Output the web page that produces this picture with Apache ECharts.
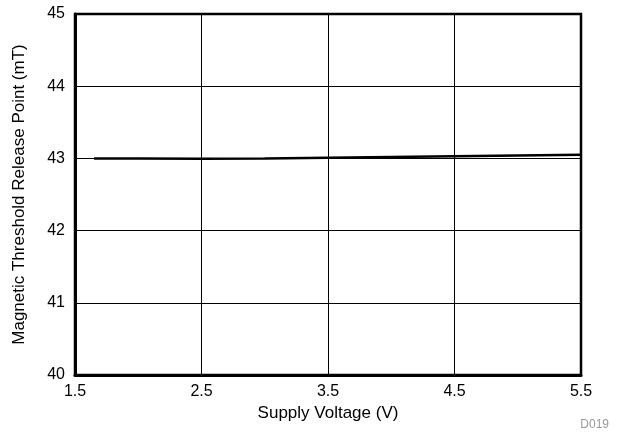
<!DOCTYPE html>
<html><head><meta charset="utf-8">
<script src="https://cdn.jsdelivr.net/npm/echarts@6/dist/echarts.min.js"></script>
<style>html,body{margin:0;padding:0;background:#fff}#c{width:620px;height:433px}</style>
</head><body><div id="c"></div>
<script>
var voltage = [1.65, 2.0, 2.5, 3.0, 3.5, 4.0, 4.5, 5.0, 5.5];
var releasePoint = [43.0, 43.0, 42.995, 43.0, 43.01, 43.02, 43.03, 43.04, 43.05];
var xTicks = [1.5, 2.5, 3.5, 4.5, 5.5];
var yTicks = [40, 41, 42, 43, 44, 45];

var chart = echarts.init(document.getElementById('c'), null, {renderer:'canvas'});
var font = 'Liberation Sans, Arial, sans-serif';
chart.setOption({
  animation:false,
  grid:{left:75, right:39, top:14, bottom:58, show:true, borderColor:'#000', borderWidth:2.5, outerBoundsMode:'none', containLabel:false},
  xAxis:{type:'value', min:xTicks[0], max:xTicks[xTicks.length-1], interval:1,
    name:'Supply Voltage (V)', nameLocation:'middle', nameGap:27,
    nameTextStyle:{fontFamily:font, fontSize:17, color:'#000'},
    axisLine:{show:true, lineStyle:{color:'#000', width:3}},
    axisTick:{show:false},
    axisLabel:{fontFamily:font, fontSize:16, color:'#000', margin:9, formatter:function(v){return v.toFixed(1);}},
    splitLine:{show:true, lineStyle:{color:'#000', width:1}}},
  yAxis:{type:'value', min:yTicks[0], max:yTicks[yTicks.length-1], interval:1,
    name:'Magnetic Threshold Release Point (mT)', nameLocation:'middle', nameGap:47,
    nameTextStyle:{fontFamily:font, fontSize:17, color:'#000'},
    axisLine:{show:true, lineStyle:{color:'#000', width:3}},
    axisTick:{show:false},
    axisLabel:{fontFamily:font, fontSize:16, color:'#000', margin:10},
    splitLine:{show:true, lineStyle:{color:'#000', width:1}}},
  graphic:[{type:'text', right:11, bottom:2, style:{text:'D019', fontFamily:font, fontSize:12, fill:'#999'}}],
  series:[{type:'line', data:voltage.map(function(v,i){return [v, releasePoint[i]];}),
    showSymbol:false, lineStyle:{color:'#000', width:2.5}}]
});
</script></body></html>
